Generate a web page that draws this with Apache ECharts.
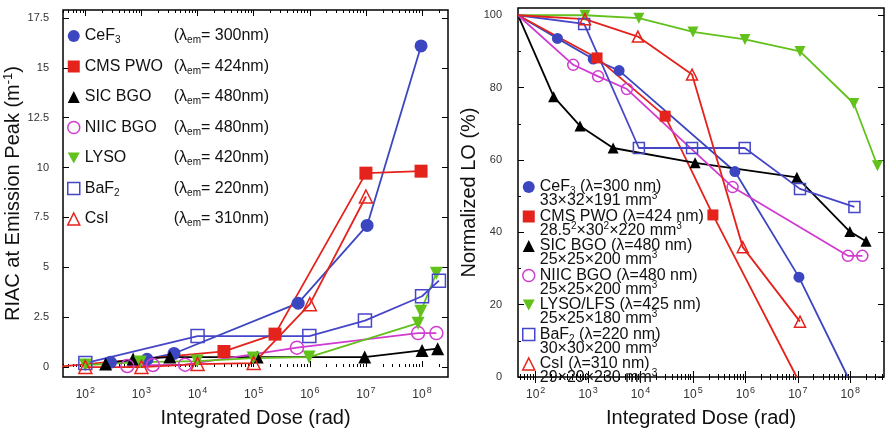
<!DOCTYPE html>
<html>
<head>
<meta charset="utf-8">
<script src="https://cdn.jsdelivr.net/npm/echarts@6/dist/echarts.min.js"></script>
<style>
html, body { margin: 0; background: #fff; }
#chart { width: 888px; height: 433px; }
</style>
</head>
<body>
<div id="chart"></div>
<script>
// tick labels
const decadeTicks = [1e2, 1e3, 1e4, 1e5, 1e6, 1e7, 1e8];
const riacTicks = [0, 2.5, 5, 7.5, 10, 12.5, 15, 17.5];
const loTicks = [0, 20, 40, 60, 80, 100];
const loMinor = [10, 30, 50, 70, 90];

// legend text
const crystals = ['CeF3', 'CMS PWO', 'SIC BGO', 'NIIC BGO', 'LYSO', 'BaF2', 'CsI'];
const riacLambda = [300, 424, 480, 480, 420, 220, 310];
const loNames = ['CeF3', 'CMS PWO', 'SIC BGO', 'NIIC BGO', 'LYSO/LFS', 'BaF2', 'CsI'];
const loLambda = [300, 424, 480, 480, 425, 220, 310];
const loSizes = ['33×32×191 mm{sup|3}', '28.5{sup|2}×30{sup|2}×220 mm{sup|3}', '25×25×200 mm{sup|3}',
  '25×25×200 mm{sup|3}', '25×25×180 mm{sup|3}', '30×30×200 mm{sup|3}', '29×29×230 mm{sup|3}'];

// left panel: RIAC (m^-1) vs integrated dose (rad)
const riacCeF3 = [[280, 0.24], [1260, 0.39], [3800, 0.68], [6.2e5, 3.2], [1.05e7, 7.1], [9.6e7, 16.1]];
const riacPWO = [[30, 0], [2.95e4, 0.78], [2.4e5, 1.65], [1.0e7, 9.72], [9.6e7, 9.82]];
const riacSicBGO = [[230, 0.15], [710, 0.4], [3200, 0.5], [1.15e5, 0.5], [9.5e6, 0.5], [1e8, 0.83], [1.9e8, 0.92]];
const riacNiicBGO = [[560, 0.05], [1600, 0.1], [6000, 0.12], [5.9e5, 0.97], [8.5e7, 1.7], [1.8e8, 1.7]];
const riacLYSO = [[100, 0.1], [950, 0.25], [9800, 0.3], [9.8e4, 0.45], [9.7e5, 0.5], [8.5e7, 2.2], [9.5e7, 2.8], [1.8e8, 4.7]];
const riacBaF2 = [[100, 0.2], [1e4, 1.55], [9.8e5, 1.55], [9.6e6, 2.33], [1e8, 3.55], [2e8, 4.33]];
const riacCsI = [[100, 0], [1000, 0], [1e4, 0.15], [1e5, 0.2], [1e6, 3.15], [1e7, 8.55]];

// right panel: normalized light output (%) vs integrated dose (rad)
const loCeF3 = [[46, 100], [260, 93.6], [1250, 87.9], [3900, 84.7], [6.3e5, 56.8], [1.05e7, 27.6], [9e7, 0]];
const loPWO = [[46, 100], [1480, 88.2], [2.95e4, 72.1], [2.4e5, 44.8], [9.5e6, 0]];
const loSicBGO = [[46, 100], [220, 77.5], [700, 69.4], [3000, 63.3], [1.1e5, 59.2], [9.6e6, 55.2], [9.8e7, 40.2], [2e8, 37.5]];
const loNiicBGO = [[46, 100], [520, 86.3], [1550, 83.1], [5500, 79.6], [5.7e5, 52.5], [9e7, 33.5], [1.7e8, 33.5]];
const loLYSO = [[46, 100], [870, 100], [9300, 99.2], [1e5, 95.4], [9.8e5, 93.3], [1.1e7, 90], [1.17e8, 75.6], [3.3e8, 58.4]];
const loBaF2 = [[46, 100], [840, 97.6], [9300, 63.3], [9.6e4, 63.3], [9.7e5, 63.3], [1.1e7, 52], [1.2e8, 47]];
const loCsI = [[46, 100], [870, 98.9], [8900, 94.1], [9.6e4, 83.6], [8.9e5, 35.9], [1.1e7, 15.3]];

const FONT = 'Liberation Sans, Arial, sans-serif';
const BLUE = '#3c46c0', RED = '#e3231c', BLACK = '#000', MAGENTA = '#d03ccf', GREEN = '#62c11a', BLUE2 = '#4646c8';
const INV_TRI = 'path://M0,0L10,0L5,9Z';
const styles = [
  {color: BLUE, symbol: 'circle', filled: true},
  {color: RED, symbol: 'rect', filled: true},
  {color: BLACK, symbol: 'triangle', filled: true},
  {color: MAGENTA, symbol: 'circle', filled: false},
  {color: GREEN, symbol: INV_TRI, filled: true},
  {color: BLUE2, symbol: 'rect', filled: false},
  {color: RED, symbol: 'triangle', filled: false}
];
const riacData = [riacCeF3, riacPWO, riacSicBGO, riacNiicBGO, riacLYSO, riacBaF2, riacCsI];
const loData = [loCeF3, loPWO, loSicBGO, loNiicBGO, loLYSO, loBaF2, loCsI];

// minor ticks 2..9 in each decade
const minorLog = [];
for (let k = 1; k <= 8; k++) for (let m = 2; m <= 9; m++) minorLog.push(m * Math.pow(10, k));

// text widths, to line up the (λem = ...) column of the left legend
const ctx = document.createElement('canvas').getContext('2d');
function textW(s, size) { ctx.font = size + 'px ' + FONT; return ctx.measureText(s).width; }

function subName(n) { return n.replace(/^(.*\D)(\d)$/, '{t|$1}{s|$2}'); }
function itemStyleOf(st) {
  return st.filled ? {color: st.color} : {color: 'rgba(0,0,0,0)', borderColor: st.color, borderWidth: 1.5};
}

const legendRich = {
  t: {fontSize: 16, fontFamily: FONT, lineHeight: 16},
  s: {fontSize: 10, fontFamily: FONT, padding: [9, 0, 0, 0]},
  e: {fontSize: 10, fontFamily: FONT, padding: [9, 0, 0, 0]}
};
const loRich = {
  t: {fontSize: 16, fontFamily: FONT, lineHeight: 14},
  s: {fontSize: 10, fontFamily: FONT, padding: [9, 0, 0, 0]},
  sup: {fontSize: 10, fontFamily: FONT, padding: [0, 0, 9, 0]}
};
// spacer tokens for the left legend name column
crystals.forEach((n, i) => {
  const m = n.match(/^(.*\D)(\d)$/);
  const w = m ? textW(m[1], 16) + textW(m[2], 10) : textW(n, 16);
  legendRich['g' + i] = {width: Math.max(1, 89 - w)};
});

const xLabel = {
  customValues: decadeTicks, margin: 9, color: '#333',
  formatter: v => '{b|10}{p|' + Math.round(Math.log10(v)) + '}',
  rich: {b: {fontSize: 12, fontFamily: FONT, color: '#333'}, p: {fontSize: 9, fontFamily: FONT, color: '#333', padding: [0, 0, 9, 1]}}
};

function xAxes(gi, min, max) {
  const base = {type: 'log', gridIndex: gi, min: min, max: max, splitLine: {show: false}, axisLine: {show: false}};
  return [
    Object.assign({}, base, {position: 'bottom', axisTick: {inside: true, length: 6, customValues: decadeTicks, lineStyle: {color: '#000'}},
      axisLabel: xLabel, name: 'Integrated Dose (rad)', nameLocation: 'middle', nameGap: 31,
      nameTextStyle: {fontSize: 20, fontFamily: FONT, color: '#111'}}),
    Object.assign({}, base, {position: 'bottom', axisTick: {inside: true, length: 3, customValues: minorLog, lineStyle: {color: '#000'}}, axisLabel: {show: false}}),
    Object.assign({}, base, {position: 'top', axisTick: {inside: true, length: 6, customValues: decadeTicks, lineStyle: {color: '#000'}}, axisLabel: {show: false}}),
    Object.assign({}, base, {position: 'top', axisTick: {inside: true, length: 3, customValues: minorLog, lineStyle: {color: '#000'}}, axisLabel: {show: false}})
  ];
}

function makeSeries(prefix, data, xi, yi, size) {
  return data.map((d, i) => {
    const st = styles[i];
    return {
      name: prefix + i, type: 'line', xAxisIndex: xi, yAxisIndex: yi,
      symbol: st.symbol, symbolSize: size, showSymbol: true,
      lineStyle: {color: st.color, width: 1.8},
      itemStyle: itemStyleOf(st),
      emphasis: {disabled: true},
      data: d.map((p, j) => (prefix === 'lo' && (j === 0 || p[1] === 0)) ? {value: p, symbol: 'none'} : p)
    };
  });
}

function legendData(prefix) {
  return styles.map((st, i) => ({
    name: prefix + i, icon: st.symbol, itemStyle: itemStyleOf(st)
  }));
}

const chart = echarts.init(document.getElementById('chart'), null, {renderer: 'canvas'});
chart.setOption({
  animation: false,
  backgroundColor: '#fff',
  textStyle: {fontFamily: FONT},
  grid: [
    {left: 63, top: 10, right: 440, bottom: 45, show: true, borderColor: '#000', borderWidth: 1.5},
    {left: 518, top: 8, right: 4, bottom: 44, show: true, borderColor: '#000', borderWidth: 1.5}
  ],
  legend: [
    {
      orient: 'vertical', left: 67, top: 28, padding: 0, itemWidth: 12, itemHeight: 12, itemGap: 13,
      selectedMode: false, data: legendData('riac'),
      formatter: name => {
        const i = +name.slice(4);
        const n = crystals[i];
        const nm = /\d$/.test(n) ? subName(n) : '{t|' + n + '}';
        return nm + '{g' + i + '|}{t|(λ}{e|em}{t|= ' + riacLambda[i] + 'nm)}';
      },
      textStyle: {color: '#111', fontSize: 16, fontFamily: FONT, rich: legendRich}
    },
    {
      orient: 'vertical', left: 522, top: 165, padding: 0, itemWidth: 12, itemHeight: 12, itemGap: -14.5,
      selectedMode: false, data: legendData('lo'),
      formatter: name => {
        const i = +name.slice(2);
        const n = loNames[i];
        const nm = /\d$/.test(n) ? subName(n) : '{t|' + n + '}';
        return '{t| }\n' + nm + '{t| (λ=' + loLambda[i] + ' nm)}\n{t|' + loSizes[i].replace(/\{sup\|(\d)\}/g, '}{sup|$1}{t|') + '}';
      },
      textStyle: {color: '#111', fontSize: 16, lineHeight: 14, fontFamily: FONT, rich: loRich}
    }
  ],
  xAxis: xAxes(0, 40, 2.9e8).concat(xAxes(1, 46, 4.4e8)),
  yAxis: [
    {type: 'value', gridIndex: 0, min: -0.5, max: 17.9, position: 'left', splitLine: {show: false}, axisLine: {show: false},
      axisTick: {inside: true, length: 6, customValues: riacTicks, lineStyle: {color: '#000'}},
      axisLabel: {customValues: riacTicks, margin: 14, fontSize: 11, color: '#333', fontFamily: FONT},
      name: 'RIAC at Emission Peak (m{p|-1})', nameLocation: 'middle', nameGap: 30,
      nameTextStyle: {fontSize: 20, fontFamily: FONT, color: '#111', rich: {p: {fontSize: 13, fontFamily: FONT, color: '#111', padding: [0, 0, 10, 0]}}}},
    {type: 'value', gridIndex: 0, min: -0.5, max: 17.9, position: 'right', splitLine: {show: false}, axisLine: {show: false},
      axisTick: {inside: true, length: 6, customValues: riacTicks, lineStyle: {color: '#000'}}, axisLabel: {show: false}},
    {type: 'value', gridIndex: 1, min: 0, max: 102, position: 'left', splitLine: {show: false}, axisLine: {show: false},
      axisTick: {inside: true, length: 6, customValues: loTicks, lineStyle: {color: '#000'}},
      axisLabel: {customValues: loTicks, margin: 16, fontSize: 11, color: '#333', fontFamily: FONT},
      name: 'Normalized LO (%)', nameLocation: 'middle', nameGap: 31,
      nameTextStyle: {fontSize: 20, fontFamily: FONT, color: '#111'}},
    {type: 'value', gridIndex: 1, min: 0, max: 102, position: 'left', splitLine: {show: false}, axisLine: {show: false},
      axisTick: {inside: true, length: 3, customValues: loMinor, lineStyle: {color: '#000'}}, axisLabel: {show: false}},
    {type: 'value', gridIndex: 1, min: 0, max: 102, position: 'right', splitLine: {show: false}, axisLine: {show: false},
      axisTick: {inside: true, length: 6, customValues: loTicks, lineStyle: {color: '#000'}}, axisLabel: {show: false}},
    {type: 'value', gridIndex: 1, min: 0, max: 102, position: 'right', splitLine: {show: false}, axisLine: {show: false},
      axisTick: {inside: true, length: 3, customValues: loMinor, lineStyle: {color: '#000'}}, axisLabel: {show: false}}
  ],
  series: makeSeries('riac', riacData, 0, 0, 13).concat(makeSeries('lo', loData, 4, 2, 11))
});
</script>
</body>
</html>
